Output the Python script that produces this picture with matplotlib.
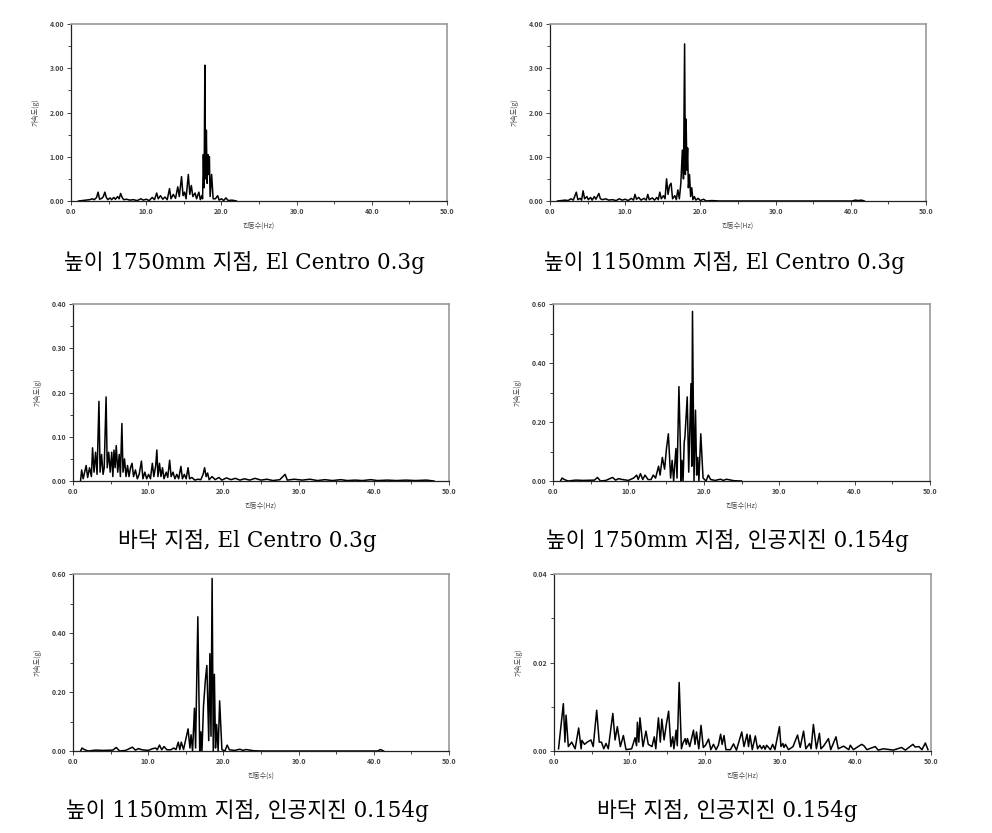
import matplotlib.pyplot as plt
import numpy as np
from matplotlib.ticker import MultipleLocator, FormatStrFormatter

plt.rcParams['font.family'] = ['Noto Sans CJK KR', 'DejaVu Sans']

# ---- data (frequency Hz, acceleration g) ----
f1 = [1.0, 1.5, 2.0, 2.5, 2.8, 3.1, 3.4, 3.6, 3.8, 4.1, 4.3, 4.5, 4.7, 4.9, 5.2, 5.4, 5.7, 5.9,
      6.2, 6.4, 6.6, 6.8, 7.0, 7.4, 7.8, 8.3, 8.8, 9.3, 9.6, 10.0, 10.4, 10.8, 11.1, 11.4, 11.6,
      11.9, 12.2, 12.5, 12.8, 13.1, 13.3, 13.6, 13.9, 14.2, 14.4, 14.7, 14.9, 15.1, 15.3, 15.6,
      15.8, 16.0, 16.2, 16.5, 16.7, 17.0, 17.2, 17.4, 17.5, 17.6, 17.7, 17.8, 17.9, 18.0, 18.1,
      18.2, 18.3, 18.4, 18.5, 18.7, 18.9, 19.2, 19.5, 19.7, 20.0, 20.3, 20.6, 20.9, 21.4, 22.0]
a1 = [0.0, 0.01, 0.02, 0.03, 0.05, 0.03, 0.08, 0.2, 0.04, 0.06, 0.1, 0.2, 0.08, 0.03, 0.07, 0.03, 0.08, 0.04,
      0.1, 0.05, 0.17, 0.08, 0.03, 0.04, 0.02, 0.03, 0.01, 0.05, 0.02, 0.04, 0.01, 0.08, 0.03, 0.18, 0.05,
      0.12, 0.04, 0.09, 0.03, 0.28, 0.05, 0.15, 0.06, 0.32, 0.1, 0.55, 0.12, 0.2, 0.05, 0.6,
      0.15, 0.35, 0.1, 0.18, 0.05, 0.2, 0.03, 0.12, 0.05, 1.05, 0.3, 3.07, 0.5, 1.6, 0.4,
      1.05, 0.6, 1.0, 0.1, 0.6, 0.05, 0.05, 0.12, 0.02, 0.05, 0.01, 0.07, 0.01, 0.02, 0.0]

f2 = [1.0, 1.5, 2.0, 2.4, 2.8, 3.1, 3.5, 3.7, 4.0, 4.2, 4.4, 4.6, 4.9, 5.1, 5.4, 5.6, 5.9, 6.1,
      6.5, 6.7, 7.0, 7.4, 7.8, 8.3, 8.8, 9.2, 9.6, 10.0, 10.4, 10.8, 11.1, 11.3, 11.5, 11.8, 12.1,
      12.5, 12.8, 13.0, 13.2, 13.6, 13.9, 14.2, 14.4, 14.6, 14.8, 15.1, 15.3, 15.5, 15.7, 15.9,
      16.1, 16.3, 16.6, 16.8, 17.0, 17.2, 17.4, 17.6, 17.75, 17.9, 18.0, 18.1, 18.2, 18.3, 18.4,
      18.55, 18.7, 18.85, 19.0, 19.2, 19.4, 19.7, 20.0, 20.4, 20.8, 21.5, 22.5, 40.2, 40.6, 41.0,
      41.4, 41.8]
a2 = [0.0, 0.01, 0.02, 0.01, 0.05, 0.02, 0.2, 0.03, 0.06, 0.02, 0.23, 0.05, 0.1, 0.03, 0.08, 0.02, 0.1, 0.04,
      0.17, 0.05, 0.03, 0.05, 0.02, 0.03, 0.01, 0.05, 0.02, 0.04, 0.01, 0.06, 0.02, 0.15, 0.04, 0.08, 0.02,
      0.06, 0.02, 0.15, 0.03, 0.07, 0.02, 0.08, 0.03, 0.2, 0.05, 0.12, 0.05, 0.5, 0.15, 0.35,
      0.4, 0.05, 0.12, 0.03, 0.25, 0.05, 0.4, 1.15, 0.5, 3.55, 0.6, 1.85, 0.7, 1.2, 0.3,
      0.6, 0.1, 0.3, 0.03, 0.1, 0.02, 0.06, 0.01, 0.04, 0.0, 0.01, 0.0, 0.0, 0.02, 0.01,
      0.02, 0.0]

f3 = [1.0, 1.15, 1.35, 1.55, 1.75, 1.95, 2.2, 2.45, 2.6, 2.8, 3.0, 3.2, 3.45, 3.6, 3.8, 4.0, 4.15,
      4.4, 4.55, 4.75, 4.95, 5.15, 5.3, 5.45, 5.6, 5.75, 5.95, 6.15, 6.3, 6.5, 6.65, 6.85, 7.05,
      7.25, 7.45, 7.65, 7.85, 8.05, 8.3, 8.55, 8.8, 9.1, 9.3, 9.55, 9.8, 10.05, 10.3, 10.55, 10.75,
      11.0, 11.15, 11.3, 11.5, 11.7, 11.9, 12.1, 12.4, 12.6, 12.85, 13.05, 13.3, 13.55, 13.8, 14.05,
      14.35, 14.55, 14.8, 15.05, 15.3, 15.5, 15.8, 16.2, 16.6, 17.0, 17.3, 17.5, 17.7, 17.9, 18.1,
      18.5, 18.9, 19.4, 19.8, 20.4, 21.0, 21.6, 22.2, 22.8, 23.5, 24.2, 25.0, 25.8, 26.6, 27.5,
      28.2, 28.5, 29.4, 30.5, 31.5, 32.5, 33.5, 34.5, 35.6, 36.5, 37.5, 38.5, 39.6, 40.5, 41.8,
      43.0, 44.3, 45.5, 47.0, 48.0]
a3 = [0.0, 0.025, 0.005, 0.02, 0.035, 0.008, 0.03, 0.01, 0.075, 0.02, 0.065, 0.015, 0.18, 0.02, 0.06, 0.015, 0.03,
      0.19, 0.03, 0.065, 0.02, 0.065, 0.01, 0.07, 0.03, 0.08, 0.02, 0.06, 0.01, 0.13, 0.02, 0.05, 0.01,
      0.035, 0.01, 0.03, 0.04, 0.01, 0.025, 0.005, 0.015, 0.045, 0.005, 0.02, 0.005, 0.015, 0.005, 0.04, 0.01,
      0.035, 0.07, 0.01, 0.04, 0.01, 0.03, 0.005, 0.02, 0.008, 0.047, 0.01, 0.02, 0.005, 0.015, 0.005,
      0.033, 0.005, 0.015, 0.005, 0.03, 0.005, 0.008, 0.002, 0.004, 0.003, 0.015, 0.03, 0.01, 0.018, 0.003,
      0.01, 0.003, 0.008, 0.002, 0.007, 0.003, 0.006, 0.002, 0.005, 0.002, 0.006, 0.002, 0.004, 0.001, 0.003,
      0.015, 0.002, 0.004, 0.002, 0.004, 0.001, 0.003, 0.001, 0.003, 0.001, 0.002, 0.001, 0.003, 0.001, 0.002,
      0.001, 0.002, 0.001, 0.002, 0.0]

f4 = [1.0, 1.2, 1.5, 2.0, 3.0, 4.0, 5.5, 5.9, 6.3, 7.0, 7.9, 8.3, 8.7, 9.2, 10.0, 10.7, 11.1, 11.3,
      11.6, 11.9, 12.2, 12.6, 13.0, 13.3, 13.6, 14.0, 14.2, 14.5, 14.8, 15.05, 15.3, 15.6, 15.8,
      16.0, 16.3, 16.45, 16.7, 17.0, 17.1, 17.25, 17.4, 17.5, 17.8, 18.0, 18.3, 18.4, 18.5, 18.7,
      18.9, 19.05, 19.2, 19.35, 19.6, 19.9, 20.3, 20.6, 20.9, 21.5, 22.2, 22.6, 23.0, 24.0, 25.0]
a4 = [0.0, 0.01, 0.005, 0.0, 0.003, 0.002, 0.003, 0.012, 0.0, 0.002, 0.012, 0.003, 0.008, 0.005, 0.002, 0.01, 0.02, 0.005,
      0.025, 0.005, 0.02, 0.005, 0.005, 0.02, 0.01, 0.05, 0.02, 0.08, 0.04, 0.11, 0.16, 0.01, 0.07,
      0.0, 0.11, 0.01, 0.32, 0.0, 0.07, 0.0, 0.13, 0.15, 0.285, 0.03, 0.33, 0.05, 0.575, 0.0,
      0.24, 0.02, 0.08, 0.0, 0.16, 0.01, 0.0, 0.02, 0.005, 0.002, 0.006, 0.002, 0.006, 0.001, 0.0]

f5 = [1.0, 1.2, 1.5, 2.0, 3.0, 4.0, 5.3, 5.75, 6.2, 7.0, 7.9, 8.3, 8.7, 9.2, 10.0, 10.6, 11.0, 11.2,
      11.5, 11.8, 12.1, 12.5, 13.0, 13.4, 13.7, 14.0, 14.2, 14.4, 14.7, 15.3, 15.55, 15.7, 15.9,
      16.15, 16.3, 16.6, 16.85, 17.0, 17.15, 17.35, 17.6, 17.8, 18.05, 18.2, 18.35, 18.5, 18.65,
      18.8, 18.95, 19.1, 19.3, 19.5, 19.8, 20.2, 20.5, 20.8, 21.5, 22.2, 22.6, 23.0, 24.0, 25.0,
      40.5, 40.9, 41.3]
a5 = [0.0, 0.01, 0.005, 0.0, 0.003, 0.002, 0.003, 0.012, 0.0, 0.002, 0.013, 0.003, 0.008, 0.004, 0.002, 0.008, 0.01, 0.004,
      0.02, 0.004, 0.015, 0.004, 0.004, 0.01, 0.005, 0.03, 0.005, 0.03, 0.005, 0.075, 0.01, 0.055, 0.0,
      0.145, 0.01, 0.455, 0.0, 0.065, 0.0, 0.15, 0.24, 0.29, 0.035, 0.33, 0.05, 0.585, 0.0,
      0.26, 0.01, 0.09, 0.0, 0.17, 0.005, 0.0, 0.02, 0.004, 0.002, 0.006, 0.002, 0.005, 0.001, 0.0,
      0.0, 0.005, 0.0]

f6 = [0.6, 1.24, 1.45, 1.6, 1.9, 2.35, 2.8, 3.27, 3.6, 3.7, 4.05, 4.4, 4.9, 5.2, 5.66, 6.0, 6.3, 6.6,
      6.9, 7.2, 7.8, 8.1, 8.4, 8.8, 9.2, 9.55, 10.3, 10.75, 10.95, 11.06, 11.25, 11.4, 11.8, 12.2,
      12.5, 13.0, 13.3, 13.5, 13.85, 14.1, 14.3, 14.6, 14.9, 15.2, 15.5, 15.75, 15.9, 16.2, 16.35,
      16.6, 16.9, 17.1, 17.4, 17.55, 17.7, 18.0, 18.5, 18.7, 18.9, 19.2, 19.5, 19.8, 20.1, 20.5,
      20.8, 21.15, 21.5, 21.8, 22.1, 22.3, 22.55, 22.8, 23.4, 23.8, 24.2, 24.9, 25.2, 25.6, 25.8,
      26.0, 26.3, 26.7, 27.0, 27.3, 27.55, 27.8, 28.0, 28.2, 28.7, 29.0, 29.3, 29.9, 30.1, 30.35,
      30.5, 30.7, 31.1, 31.7, 32.3, 32.65, 33.1, 33.4, 33.9, 34.1, 34.4, 34.8, 35.2, 35.4, 35.75,
      36.4, 36.7, 37.4, 37.7, 38.4, 39.1, 39.3, 39.7, 40.8, 41.1, 41.5, 42.6, 43.0, 43.7, 45.0,
      46.1, 46.6, 47.6, 47.9, 48.4, 48.8, 49.25, 49.6]
a6 = [0.0005, 0.0107, 0.002, 0.0081, 0.001, 0.002, 0.0005, 0.0052, 0.0005, 0.0024, 0.0015, 0.002, 0.0025, 0.001, 0.0092, 0.002, 0.002, 0.0005,
      0.0017, 0.0005, 0.0085, 0.0025, 0.0055, 0.001, 0.0035, 0.0003, 0.0005, 0.003, 0.0012, 0.0065, 0.002, 0.0075, 0.001, 0.0045,
      0.0015, 0.001, 0.0032, 0.0005, 0.0075, 0.002, 0.0072, 0.0025, 0.006, 0.009, 0.001, 0.0032, 0.0005, 0.0047, 0.0012,
      0.0155, 0.0005, 0.0018, 0.0028, 0.0015, 0.0028, 0.001, 0.0047, 0.0015, 0.0043, 0.0005, 0.0058, 0.0008, 0.0013, 0.0027,
      0.0003, 0.0015, 0.0003, 0.0013, 0.0038, 0.0015, 0.0035, 0.0003, 0.0003, 0.0016, 0.0002, 0.0043, 0.001, 0.0038, 0.001,
      0.0036, 0.0003, 0.0034, 0.0005, 0.0013, 0.0005, 0.0012, 0.0004, 0.0013, 0.0003, 0.0015, 0.0003, 0.0055, 0.001, 0.0017,
      0.0008, 0.0015, 0.0003, 0.001, 0.0036, 0.0008, 0.0045, 0.0005, 0.0017, 0.0005, 0.006, 0.0005, 0.004, 0.0005, 0.0011,
      0.0028, 0.0003, 0.0032, 0.0005, 0.0011, 0.0003, 0.0013, 0.0003, 0.0015, 0.0012, 0.0003, 0.001, 0.0002, 0.0005, 0.0002,
      0.0008, 0.0002, 0.0015, 0.0009, 0.001, 0.0003, 0.0018, 0.0003]

captions = ["높이 1750mm 지점, El Centro 0.3g", "높이 1150mm 지점, El Centro 0.3g",
            "바닥 지점, El Centro 0.3g", "높이 1750mm 지점, 인공지진 0.154g",
            "높이 1150mm 지점, 인공지진 0.154g", "바닥 지점, 인공지진 0.154g"]
xlabels = ["진동수(Hz)", "진동수(Hz)", "진동수(Hz)", "진동수(Hz)", "진동수(s)", "진동수(Hz)"]
ylabel = "가속도(g)"
freqs = [f1, f2, f3, f4, f5, f6]
amps = [a1, a2, a3, a4, a5, a6]
ymax = [4.0, 4.0, 0.4, 0.6, 0.6, 0.04]
ymajor = [1.0, 1.0, 0.1, 0.2, 0.2, 0.02]

W, H = 992, 833
# axes boxes in pixels: left, right, top, bottom
boxes = [(71, 447, 24, 201), (550, 926, 24, 201),
         (73, 449, 304, 481), (553, 930, 304, 481),
         (73, 449, 574, 751), (554, 931, 574, 751)]
cap_pos = [(245, 262), (724, 262), (247, 541), (727, 541), (247, 810), (727, 810)]

fig = plt.figure(figsize=(W / 100, H / 100), dpi=100)

for i in range(6):
    l, r, t, b = boxes[i]
    ax = fig.add_axes([l / W, (H - b) / H, (r - l) / W, (b - t) / H])
    ax.plot(freqs[i], amps[i], color='black', lw=1.1)
    ax.set_xlim(0, 50)
    ax.set_ylim(0, ymax[i])
    ax.xaxis.set_major_locator(MultipleLocator(10))
    ax.xaxis.set_minor_locator(MultipleLocator(5))
    ax.yaxis.set_major_locator(MultipleLocator(ymajor[i]))
    ax.yaxis.set_minor_locator(MultipleLocator(ymajor[i] / 2))
    ax.xaxis.set_major_formatter(FormatStrFormatter('%.1f'))
    ax.yaxis.set_major_formatter(FormatStrFormatter('%.2f'))
    ax.tick_params(which='both', direction='out', labelsize=5, colors='#444444',
                   width=0.7, pad=2)
    ax.tick_params(which='major', length=3)
    ax.tick_params(which='minor', length=2)
    for lbl in ax.get_xticklabels() + ax.get_yticklabels():
        lbl.set_fontweight('bold')
    for s in ['left', 'bottom']:
        ax.spines[s].set_color('#222222')
        ax.spines[s].set_linewidth(0.9)
    for s in ['top', 'right']:
        ax.spines[s].set_color('#999999')
        ax.spines[s].set_linewidth(1.2)
    ax.set_xlabel(xlabels[i], fontsize=5, color='#444444', labelpad=5)
    ax.set_ylabel(ylabel, fontsize=5, color='#444444', labelpad=7)

    cx, cy = cap_pos[i]
    fig.text(cx / W, (H - cy) / H, captions[i], ha='center', va='center',
             fontsize=15.5, family=['DejaVu Serif', 'Noto Sans CJK KR'])

fig.savefig('out.png', dpi=100)
